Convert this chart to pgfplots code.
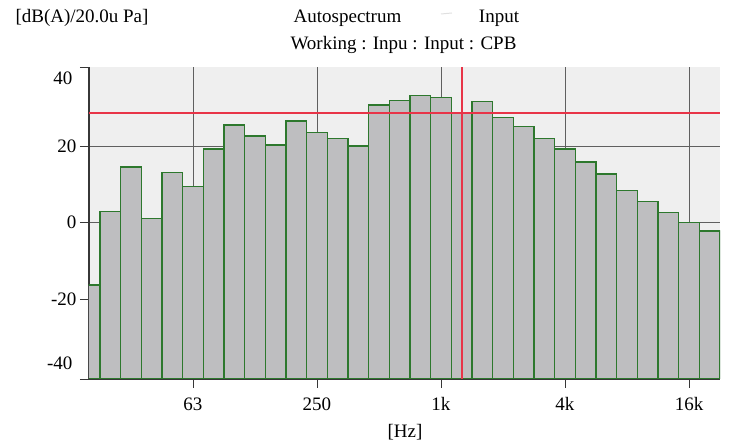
\documentclass[border=0pt]{standalone}
\usepackage{fontspec}
\setmainfont{Liberation Serif}
\usepackage{pgfplots}
\pgfplotsset{compat=1.18}
\usepackage{pgfplotstable}
\definecolor{bgc}{RGB}{239,239,239}
\definecolor{barfill}{RGB}{190,190,192}
\definecolor{baredge}{RGB}{45,120,45}
\definecolor{cursor}{RGB}{232,52,72}
\definecolor{gridc}{RGB}{95,95,95}
\definecolor{axc}{RGB}{55,55,55}
\pgfplotstableread{
band value
-17 -16.3
-16 2.9
-15 14.6
-14 1.1
-13 13.1
-12 9.4
-11 19.2
-10 25.5
-9 22.7
-8 20.3
-7 26.6
-6 23.6
-5 22.0
-4 20.1
-3 30.8
-2 32.0
-1 33.3
0 32.7
1 28.7
2 31.7
3 27.5
4 25.2
5 22.0
6 19.2
7 15.8
8 12.7
9 8.4
10 5.5
11 2.6
12 0.0
13 -2.2
}\spectrum
\newcommand{\fs}{\fontsize{19}{22}\selectfont}
\begin{document}
\begin{tikzpicture}[x=1pt,y=1pt]
\useasboundingbox (-89,-62) rectangle (642,379);
\begin{axis}[name=ax, at={(0,0)}, anchor=south west,
  scale only axis, width=631pt, height=312pt,
  xmin=-17.03, xmax=13.5, ymin=-40.9, ymax=40.7,
  y coord trafo/.code={\pgfmathparse{#1+60}},
  y coord inv trafo/.code={\pgfmathparse{#1-60}},
  axis lines*=left,
  axis line style={draw=axc, line width=1.2pt},
  axis background/.style={fill=bgc},
  xtick={-12,-6,0,6,12}, xticklabels={63,250,1k,4k,16k},
  ytick={-20,0,20}, yticklabels={-20,0,20},
  extra y ticks={-40.9,40.7}, extra y tick labels={},
  extra y tick style={grid=none},
  grid=major, major grid style={gridc, line width=0.9pt},
  tick style={axc, line width=0.9pt},
  tick align=outside, major tick length=9pt,
  ticklabel style={font=\fs},
  xticklabel style={yshift=-6pt},
]
\addplot[ybar, bar width=1, bar shift=0pt, fill=barfill, draw=baredge, line width=1.5pt]
  table[x=band, y=value]{\spectrum};
\addplot[cursor, line width=1.8pt] coordinates {(-17.03,28.7) (13.5,28.7)};
\addplot[cursor, line width=1.8pt] coordinates {(1,-40.9) (1,40.7)};
\end{axis}
\node[anchor=east, font=\fs] at (-13,301) {40};
\node[anchor=east, font=\fs] at (-13,16) {-40};
\node[anchor=west, font=\fs] at (-77,361) {[dB(A)/20.0u Pa]};
\node[font=\fs] at (258.5,361) {Autospectrum};
\node[font=\fs] at (410,361) {Input};
\draw[black!12, line width=1pt] (352,365) -- (363,366);
\node[font=\fs] at (314.5,334) {Working : Inpu : Input : CPB};
\node[font=\fs] at (316,-53) {[Hz]};
\end{tikzpicture}
\end{document}
